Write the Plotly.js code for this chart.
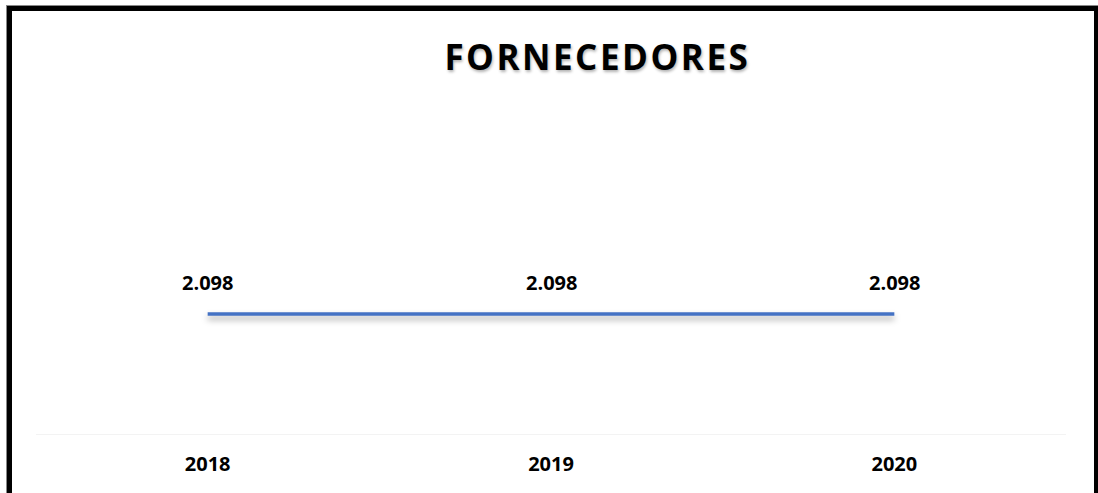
<!DOCTYPE html>
<html>
<head>
<meta charset="utf-8">
<script src="https://cdn.plot.ly/plotly-3.0.1.min.js"></script>
<style>
  html, body { margin: 0; padding: 0; background: #fff; }
  #wrap { position: relative; width: 1098px; height: 493px; overflow: hidden; }
  #chart { width: 1098px; height: 493px; }
  #frame {
    position: absolute; left: 7px; top: 6px; width: 1082px; height: 600px;
    border: 5px solid #000; box-shadow: 0 0 0 1px #888; pointer-events: none;
  }
  .gtitle { letter-spacing: 2.5px; }
  .scatterlayer .js-line { filter: drop-shadow(0px 4px 3px rgba(0,0,0,0.35)); }
</style>
</head>
<body>
<div id="wrap">
  <div id="chart"></div>
  <div id="frame"></div>
</div>
<script>
const categories = ["2018", "2019", "2020"];
const values = [2098, 2098, 2098];
const chartTitle = "FORNECEDORES";

function fmtPt(v) {
  return String(Math.round(v)).replace(/\B(?=(\d{3})+(?!\d))/g, ".");
}

const trace = {
  type: "scatter",
  mode: "lines",
  x: categories,
  y: values,
  line: { color: "#4472C4", width: 3.5, shape: "linear" },
  hoverinfo: "skip",
  showlegend: false
};

const annotations = categories.map((c, i) => ({
  x: i, y: values[i], xref: "x", yref: "y",
  text: fmtPt(values[i]), showarrow: false, yshift: 32,
  xanchor: "center", yanchor: "middle",
  font: { family: "Open Sans", size: 20, color: "#000", weight: 700 }
}));

const layout = {
  width: 1098, height: 493,
  margin: { l: 36, r: 32, t: 120, b: 59 },
  paper_bgcolor: "#fff", plot_bgcolor: "#fff",
  title: {
    text: chartTitle,
    x: 0.545, xanchor: "center", xref: "paper",
    y: 0.882, yanchor: "middle", yref: "container",
    font: { family: "Open Sans", size: 35, color: "#000", weight: 700, shadow: "1px 2px 3px rgba(0,0,0,0.3)" }
  },
  xaxis: {
    type: "category", range: [-0.5, 2.5], fixedrange: true,
    showgrid: false, zeroline: false, showline: true, linecolor: "#f3f3f3", linewidth: 1,
    ticks: "", ticklabelstandoff: 12,
    tickfont: { family: "Open Sans", size: 20, color: "#000", weight: 700 }
  },
  yaxis: { range: [0, 5490], visible: false, showgrid: false, zeroline: false, fixedrange: true },
  annotations: annotations
};

Plotly.newPlot("chart", [trace], layout, { displayModeBar: false, staticPlot: true });
</script>
</body>
</html>
